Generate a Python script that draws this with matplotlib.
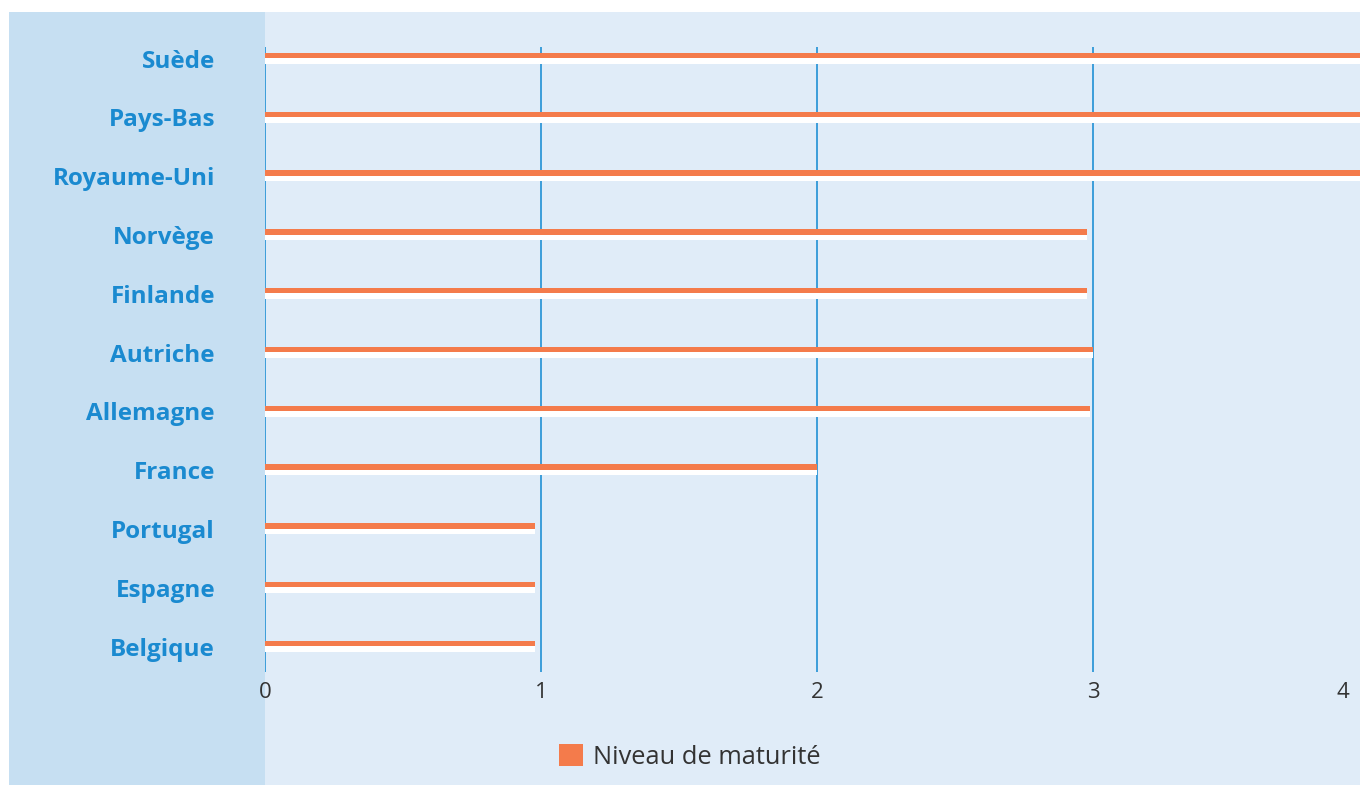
import matplotlib
matplotlib.use("Agg")
import matplotlib.pyplot as plt
from matplotlib.patches import Rectangle, Patch
import matplotlib.transforms as mtransforms

countries = ["Belgique", "Espagne", "Portugal", "France", "Allemagne", "Autriche",
             "Finlande", "Norvège", "Royaume-Uni", "Pays-Bas", "Suède"]
values = [0.98, 0.98, 0.98, 2.0, 2.99, 3.0, 2.98, 2.98, 4.0, 4.0, 4.0]
xticks = [0, 1, 2, 3, 4]
series_name = "Niveau de maturité"

W, H = 1360, 785
fig = plt.figure(figsize=(W / 100, H / 100), dpi=100)
fig.patch.set_facecolor("white")

def fx(px):
    return px / W

def fy(py):
    return 1 - py / H

# background panels
fig.patches.append(Rectangle((fx(9), 0), fx(1360) - fx(9), fy(12), transform=fig.transFigure,
                             facecolor="#e0ecf8", edgecolor="none", zorder=-2))
fig.patches.append(Rectangle((fx(9), 0), fx(265) - fx(9), fy(12), transform=fig.transFigure,
                             facecolor="#c6dff2", edgecolor="none", zorder=-1))

ax_left, ax_right = 265, 1369
ax_top, ax_bottom = 47, 672
ax = fig.add_axes([fx(ax_left), fy(ax_bottom), fx(ax_right) - fx(ax_left), fy(ax_top) - fy(ax_bottom)])
ax.set_facecolor("none")
ax.set_zorder(1)

ypos = list(range(len(countries)))
unit = 58.8
bh = 5.5 / unit
ax.barh([y - bh for y in ypos], values, height=bh, color="white", zorder=3)
ax.barh(ypos, values, height=bh, color="#f47b4b", zorder=4)

ax.set_xlim(0, 4)
ax.set_ylim(0 - (672 - 643.5) / unit, 10 + (55.5 - 47) / unit)
ax.set_xticks(xticks)
ax.set_xticklabels([str(t) for t in xticks], fontsize=16, color="#333333",
                   fontfamily="Open Sans", fontweight="normal")
ax.set_yticks(ypos)
ax.set_yticklabels(countries, fontsize=17.5, fontweight="bold", color="#1a8ad0",
                   fontfamily="Open Sans")
ax.tick_params(axis="y", length=0, pad=36)
ax.tick_params(axis="x", length=0, pad=7)
for sp in ax.spines.values():
    sp.set_visible(False)
ax.set_axisbelow(True)
ax.xaxis.grid(True, color="#2190d4", linewidth=1.2)
ax.yaxis.grid(False)

# nudge category labels down slightly (centred on bar + shadow)
shift_down = mtransforms.ScaledTranslation(0, -3 / 100, fig.dpi_scale_trans)
for lab in ax.get_yticklabels():
    lab.set_transform(lab.get_transform() + shift_down)

# shift the last tick label inward so it stays visible
lab = ax.get_xticklabels()[-1]
lab.set_transform(lab.get_transform() + mtransforms.ScaledTranslation(-26 / 100, 0, fig.dpi_scale_trans))

fig.legend(handles=[Patch(facecolor="#f47b4b", edgecolor="none", label=series_name)],
           loc="center", bbox_to_anchor=(fx(690), fy(757)), frameon=False,
           handlelength=0.95, handleheight=0.95, handletextpad=0.4,
           prop={"family": "Open Sans", "size": 18.3}, labelcolor="#333333")

fig.savefig("out.png", dpi=100)
